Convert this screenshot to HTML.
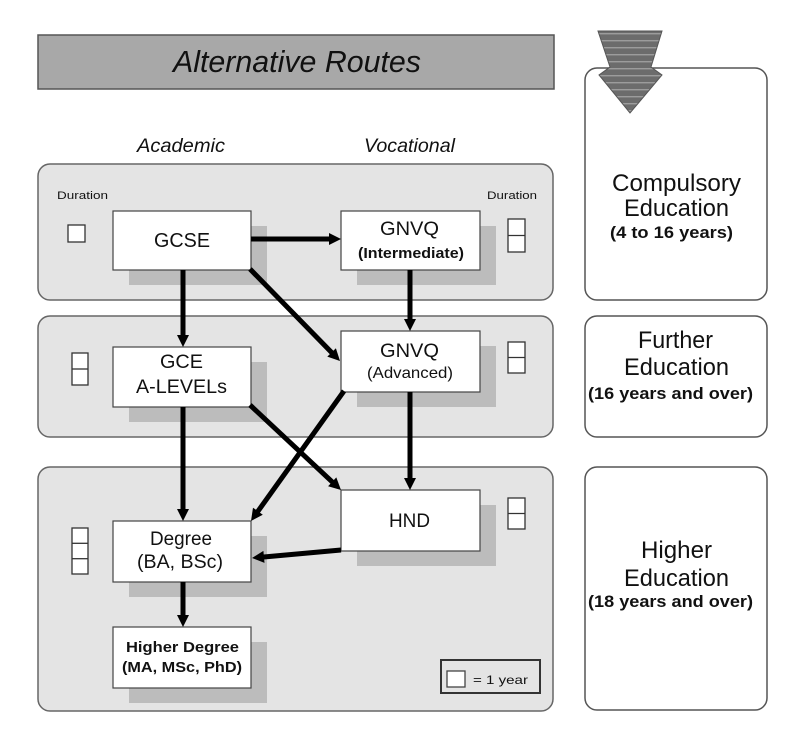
<!DOCTYPE html>
<html><head><meta charset="utf-8"><style>
html,body{margin:0;padding:0;background:#fff;}
svg{display:block;}
text{font-family:"Liberation Sans",Arial,sans-serif;fill:#111;}
</style></head><body>
<svg width="804" height="743" viewBox="0 0 804 743" xmlns="http://www.w3.org/2000/svg">
<defs>
<pattern id="stripes" patternUnits="userSpaceOnUse" width="10" height="7">
<rect width="10" height="7" fill="#6c6c6c"/>
<rect y="5" width="10" height="1.4" fill="#9c9c9c"/>
</pattern>
</defs>
<rect width="804" height="743" fill="#fff"/>

<!-- Title bar -->
<rect x="38" y="35" width="516" height="54" fill="#a8a8a8" stroke="#555" stroke-width="1.5"/>
<text x="173" y="72" font-size="31" font-style="italic" textLength="248" lengthAdjust="spacingAndGlyphs">Alternative Routes</text>

<!-- Column headings -->
<text x="137" y="152" font-size="19" font-style="italic" textLength="88" lengthAdjust="spacingAndGlyphs">Academic</text>
<text x="364" y="152" font-size="19" font-style="italic" textLength="91" lengthAdjust="spacingAndGlyphs">Vocational</text>

<!-- Right column boxes -->
<rect x="585" y="68" width="182" height="232" rx="12" fill="#fff" stroke="#555" stroke-width="1.5"/>
<rect x="585" y="316" width="182" height="121" rx="12" fill="#fff" stroke="#555" stroke-width="1.5"/>
<rect x="585" y="467" width="182" height="243" rx="12" fill="#fff" stroke="#555" stroke-width="1.5"/>

<!-- Down arrow -->
<polygon points="598,31 662,31 651,67 662,75 630,113 599,75 610,67" fill="url(#stripes)" stroke="#555" stroke-width="1"/>

<text x="612" y="191" font-size="24" textLength="129" lengthAdjust="spacingAndGlyphs">Compulsory</text>
<text x="624" y="216" font-size="24" textLength="105" lengthAdjust="spacingAndGlyphs">Education</text>
<text x="610" y="238" font-size="17" font-weight="bold" textLength="123" lengthAdjust="spacingAndGlyphs">(4 to 16 years)</text>

<text x="638" y="348" font-size="24" textLength="75" lengthAdjust="spacingAndGlyphs">Further</text>
<text x="624" y="375" font-size="24" textLength="105" lengthAdjust="spacingAndGlyphs">Education</text>
<text x="588" y="399" font-size="17" font-weight="bold" textLength="165" lengthAdjust="spacingAndGlyphs">(16 years and over)</text>

<text x="641" y="558" font-size="24" textLength="71" lengthAdjust="spacingAndGlyphs">Higher</text>
<text x="624" y="586" font-size="24" textLength="105" lengthAdjust="spacingAndGlyphs">Education</text>
<text x="588" y="607" font-size="17" font-weight="bold" textLength="165" lengthAdjust="spacingAndGlyphs">(18 years and over)</text>

<!-- Panels -->
<rect x="38" y="164" width="515" height="136" rx="12" fill="#e4e4e4" stroke="#666" stroke-width="1.5"/>
<rect x="38" y="316" width="515" height="121" rx="12" fill="#e4e4e4" stroke="#666" stroke-width="1.5"/>
<rect x="38" y="467" width="515" height="244" rx="12" fill="#e4e4e4" stroke="#666" stroke-width="1.5"/>

<!-- Duration labels -->
<text x="57" y="199" font-size="11" textLength="51" lengthAdjust="spacingAndGlyphs" fill="#222">Duration</text>
<text x="487" y="199" font-size="11" textLength="50" lengthAdjust="spacingAndGlyphs" fill="#222">Duration</text>

<!-- Duration squares -->
<g fill="#fff" stroke="#333" stroke-width="1.3">
<rect x="68" y="225" width="17" height="17"/>
<rect x="508" y="219" width="17" height="33"/><line x1="508" y1="235.5" x2="525" y2="235.5"/>
<rect x="72" y="353" width="16" height="32"/><line x1="72" y1="369" x2="88" y2="369"/>
<rect x="508" y="342" width="17" height="31"/><line x1="508" y1="357.5" x2="525" y2="357.5"/>
<rect x="72" y="528" width="16" height="46"/><line x1="72" y1="543.3" x2="88" y2="543.3"/><line x1="72" y1="558.7" x2="88" y2="558.7"/>
<rect x="508" y="498" width="17" height="31"/><line x1="508" y1="513.5" x2="525" y2="513.5"/>
</g>

<!-- Shadows -->
<g fill="#bcbcbc">
<rect x="129" y="226" width="138" height="59"/>
<rect x="357" y="226" width="139" height="59"/>
<rect x="129" y="362" width="138" height="60"/>
<rect x="357" y="346" width="139" height="61"/>
<rect x="129" y="536" width="138" height="61"/>
<rect x="357" y="505" width="139" height="61"/>
<rect x="129" y="642" width="138" height="61"/>
</g>

<!-- Boxes -->
<g fill="#fff" stroke="#444" stroke-width="1.2">
<rect x="113" y="211" width="138" height="59"/>
<rect x="341" y="211" width="139" height="59"/>
<rect x="113" y="347" width="138" height="60"/>
<rect x="341" y="331" width="139" height="61"/>
<rect x="113" y="521" width="138" height="61"/>
<rect x="341" y="490" width="139" height="61"/>
<rect x="113" y="627" width="138" height="61"/>
</g>

<!-- Box texts -->
<text x="154" y="247" font-size="20" textLength="56" lengthAdjust="spacingAndGlyphs">GCSE</text>
<text x="380" y="235" font-size="19" textLength="59" lengthAdjust="spacingAndGlyphs">GNVQ</text>
<text x="358" y="258" font-size="15" font-weight="bold" textLength="106" lengthAdjust="spacingAndGlyphs">(Intermediate)</text>

<text x="160" y="368" font-size="19" textLength="43" lengthAdjust="spacingAndGlyphs">GCE</text>
<text x="136" y="393" font-size="19" textLength="91" lengthAdjust="spacingAndGlyphs">A-LEVELs</text>

<text x="380" y="357" font-size="19" textLength="59" lengthAdjust="spacingAndGlyphs">GNVQ</text>
<text x="367" y="378" font-size="16" textLength="86" lengthAdjust="spacingAndGlyphs">(Advanced)</text>

<text x="389" y="527" font-size="19" textLength="41" lengthAdjust="spacingAndGlyphs">HND</text>

<text x="150" y="545" font-size="19" textLength="62" lengthAdjust="spacingAndGlyphs">Degree</text>
<text x="137" y="568" font-size="19" textLength="86" lengthAdjust="spacingAndGlyphs">(BA, BSc)</text>

<text x="126" y="652" font-size="15" font-weight="bold" textLength="113" lengthAdjust="spacingAndGlyphs">Higher Degree</text>
<text x="122" y="672" font-size="15" font-weight="bold" textLength="120" lengthAdjust="spacingAndGlyphs">(MA, MSc, PhD)</text>

<!-- Legend -->
<rect x="441" y="660" width="99" height="33" fill="#e4e4e4" stroke="#333" stroke-width="2"/>
<rect x="447" y="671" width="18" height="16" fill="#fff" stroke="#444" stroke-width="1.3"/>
<text x="473" y="684" font-size="12" fill="#555" textLength="55" lengthAdjust="spacingAndGlyphs">= 1 year</text>

<!-- Arrows -->
<g stroke="#000" stroke-width="5" fill="none" stroke-linecap="butt">
<line x1="251" y1="239" x2="331" y2="239"/>
<line x1="183" y1="270" x2="183" y2="337"/>
<line x1="250" y1="269" x2="333.7" y2="354.6"/>
<line x1="410" y1="270" x2="410" y2="321"/>
<line x1="183" y1="407" x2="183" y2="511"/>
<line x1="250" y1="405" x2="334.4" y2="483.9"/>
<line x1="344" y1="391" x2="256.2" y2="513.7"/>
<line x1="410" y1="392" x2="410" y2="480"/>
<line x1="341" y1="550" x2="261" y2="557.2"/>
<line x1="183" y1="582" x2="183" y2="617"/>
</g>
<g fill="#000">
<polygon points="341,239 329,233 329,245"/>
<polygon points="183,347 177,335 189,335"/>
<polygon points="340,361 327.3,356.6 335.9,348.2"/>
<polygon points="410,331 404,319 416,319"/>
<polygon points="183,521 177,509 189,509"/>
<polygon points="341,490 328.1,486.2 336.3,477.4"/>
<polygon points="251,521 253.0,507.7 262.8,514.7"/>
<polygon points="410,490 404,478 416,478"/>
<polygon points="252,558 263.4,550.9 264.5,562.9"/>
<polygon points="183,627 177,615 189,615"/>
</g>
</svg>
</body></html>
